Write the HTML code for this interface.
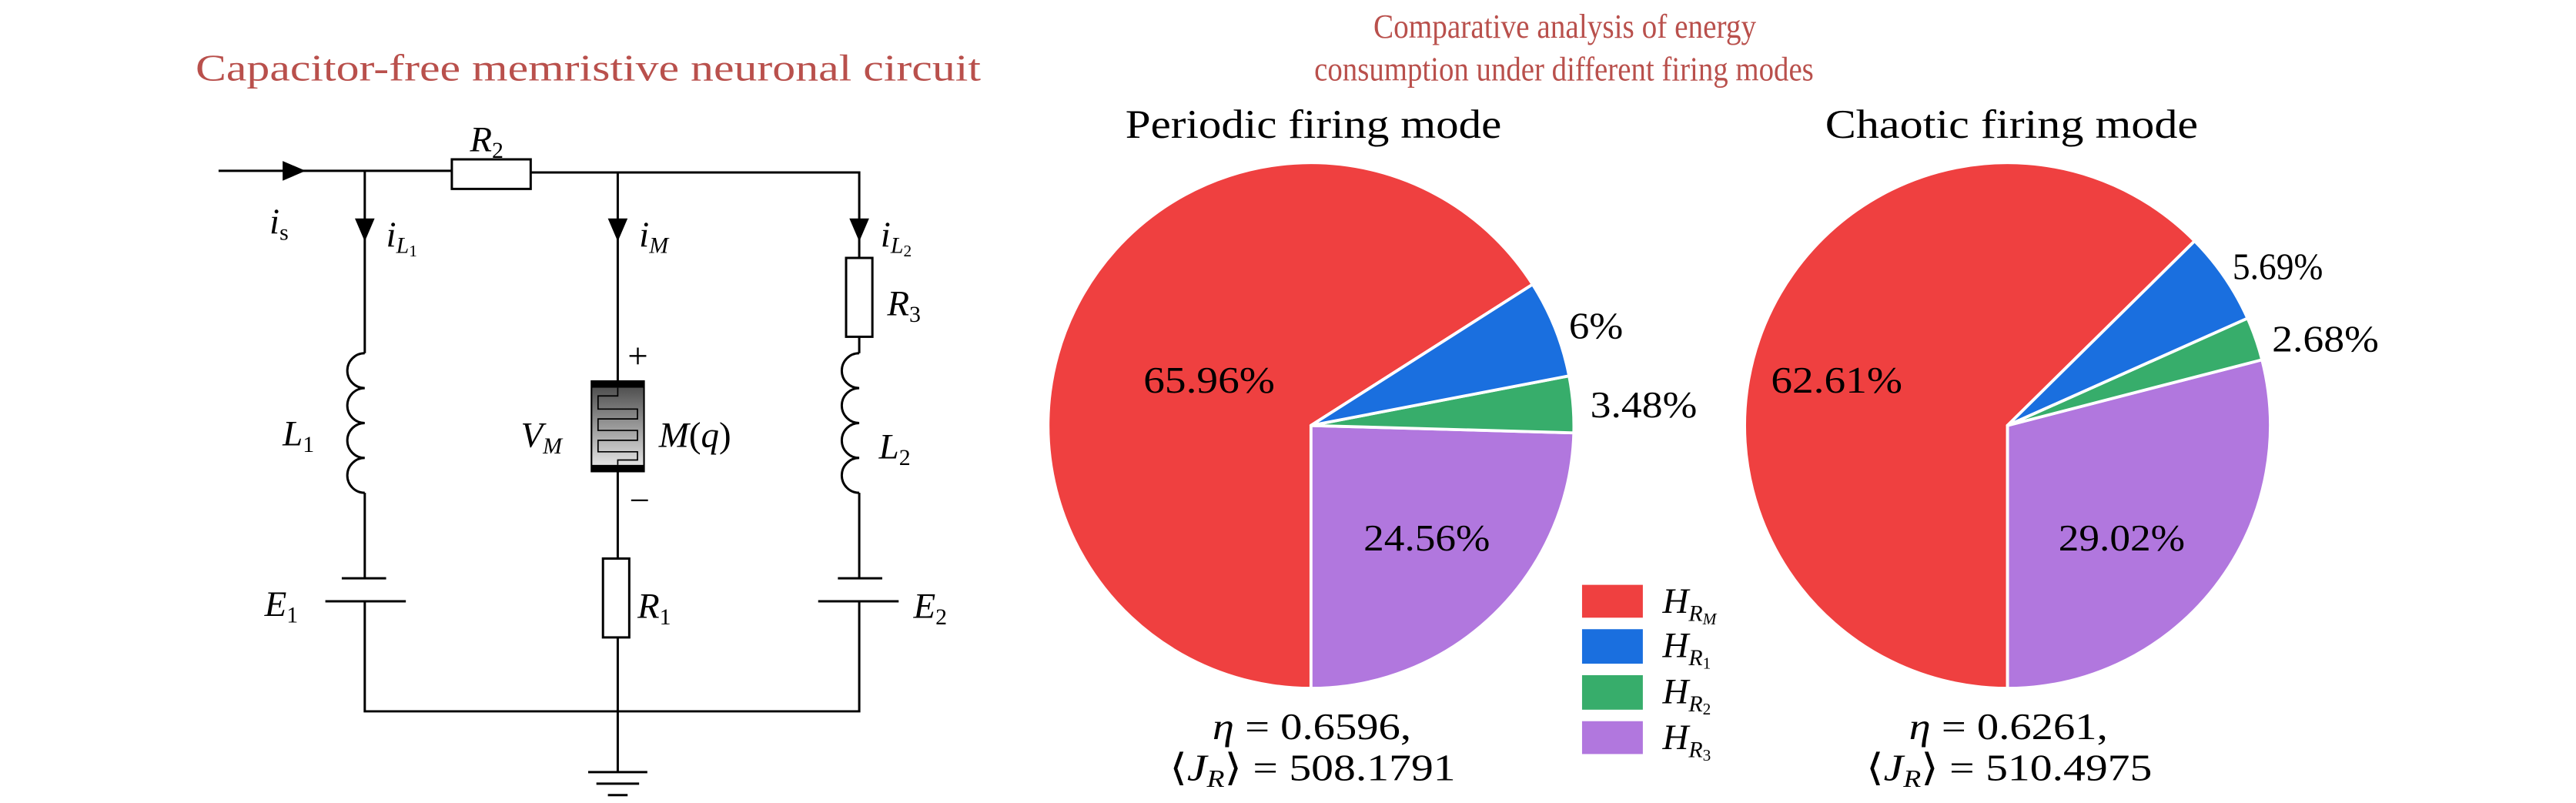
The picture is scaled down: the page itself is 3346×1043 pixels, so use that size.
<!DOCTYPE html>
<html><head><meta charset="utf-8"><style>
html,body{margin:0;padding:0;background:#fff;}
svg{display:block;}
text{font-family:"Liberation Serif",serif;fill:#000;}
.t{fill:#b9504c;}
.i{font-style:italic;}
</style></head><body>
<svg width="3346" height="1043" viewBox="0 0 1568 488.8" xmlns="http://www.w3.org/2000/svg">
<defs>
<linearGradient id="g" x1="0" y1="0" x2="0" y2="1">
<stop offset="0" stop-color="#444"/><stop offset="0.5" stop-color="#999"/><stop offset="1" stop-color="#eee"/>
</linearGradient>
</defs>
<text class="t" x="119" y="49" font-size="23" textLength="478" lengthAdjust="spacingAndGlyphs">Capacitor-free memristive neuronal circuit</text>
<g stroke="#000" stroke-width="1.4" fill="none">
<path d="M133 104 H275 M323 105 H523 V157 M222 104 V215 M222 300 V352 M222 366 V433 H523 V366 M523 352 V300 M523 205 V215 M376 105 V232 M376 287 V340 M376 388 V470"/>
<rect x="275" y="97" width="48" height="18"/>
<rect x="515" y="157" width="16" height="48"/>
<rect x="367" y="340" width="16" height="48"/>
<path d="M222 215 a10.6 10.6 0 1 0 0 21.25 a10.6 10.6 0 1 0 0 21.25 a10.6 10.6 0 1 0 0 21.25 a10.6 10.6 0 1 0 0 21.25"/>
<path d="M523 215 a10.6 10.6 0 1 0 0 21.25 a10.6 10.6 0 1 0 0 21.25 a10.6 10.6 0 1 0 0 21.25 a10.6 10.6 0 1 0 0 21.25"/>
<path d="M208 352 H235 M198 366 H247 M510 352 H537 M498 366 H547"/>
<path d="M358 470 H394 M363 477 H389 M370 484 H382"/>
</g>
<g fill="#000">
<path d="M172 98 L186 104 L172 110 Z"/>
<path d="M216 133 L222 147 L228 133 Z"/>
<path d="M370 133 L376 147 L382 133 Z"/>
<path d="M517 133 L523 147 L529 133 Z"/>
</g>
<rect x="360" y="232" width="32" height="55" fill="url(#g)" stroke="#000" stroke-width="1"/>
<rect x="360" y="232" width="32" height="4" fill="#000"/>
<rect x="360" y="283" width="32" height="4" fill="#000"/>
<path d="M376 236 V241 H364 V249 H388 V255 H364 V262 H388 V268 H364 V275 H388 V280 H376 V283" stroke="#000" stroke-width="0.8" fill="none"/>
<g font-size="22">
<text x="286" y="92" class="i">R<tspan font-size="14" font-style="normal" dy="4">2</tspan></text>
<text x="164" y="142" class="i">i<tspan font-size="14" font-style="normal" dy="4">s</tspan></text>
<text x="235" y="150" class="i">i<tspan font-size="14" dy="4">L</tspan><tspan font-size="10" font-style="normal" dy="2">1</tspan></text>
<text x="389" y="150" class="i">i<tspan font-size="14" dy="4">M</tspan></text>
<text x="536" y="150" class="i">i<tspan font-size="14" dy="4">L</tspan><tspan font-size="10" font-style="normal" dy="2">2</tspan></text>
<text x="540" y="192" class="i">R<tspan font-size="14" font-style="normal" dy="4">3</tspan></text>
<text x="172" y="271" class="i">L<tspan font-size="14" font-style="normal" dy="4">1</tspan></text>
<text x="535" y="279" class="i">L<tspan font-size="14" font-style="normal" dy="4">2</tspan></text>
<text x="317" y="272" class="i">V<tspan font-size="14" dy="4">M</tspan></text>
<text x="401" y="272"><tspan class="i">M</tspan>(<tspan class="i">q</tspan>)</text>
<text x="382" y="224" font-size="22">+</text>
<text x="383" y="312" font-size="22">−</text>
<text x="388" y="376" class="i">R<tspan font-size="14" font-style="normal" dy="4">1</tspan></text>
<text x="161" y="375" class="i">E<tspan font-size="14" font-style="normal" dy="4">1</tspan></text>
<text x="556" y="376" class="i">E<tspan font-size="14" font-style="normal" dy="4">2</tspan></text>
</g>
<text class="t" x="836" y="23" font-size="21" textLength="233" lengthAdjust="spacingAndGlyphs">Comparative analysis of energy</text>
<text class="t" x="800" y="49" font-size="21" textLength="304" lengthAdjust="spacingAndGlyphs">consumption under different firing modes</text>
<text x="685" y="84" font-size="25" textLength="229" lengthAdjust="spacingAndGlyphs">Periodic firing mode</text>
<text x="1111" y="84" font-size="25" textLength="227" lengthAdjust="spacingAndGlyphs">Chaotic firing mode</text>
<g stroke="#fff" stroke-width="1.8" stroke-linejoin="round">
<path d="M798 259 L932.9 173.1 A160 160 0 1 0 798 419 Z" fill="#ef4040"/>
<path d="M798 259 L798 419 A160 160 0 0 0 958 263.5 Z" fill="#b177de"/>
<path d="M798 259 L958 263.5 A160 160 0 0 0 955.1 228.8 Z" fill="#37ad6b"/>
<path d="M798 259 L955.1 228.8 A160 160 0 0 0 932.9 173.1 Z" fill="#1a6fdf"/>
<path d="M1222 259 L1335.9 146.7 A160 160 0 1 0 1222 419 Z" fill="#ef4040"/>
<path d="M1222 259 L1222 419 A160 160 0 0 0 1376.9 219 Z" fill="#b177de"/>
<path d="M1222 259 L1376.9 219 A160 160 0 0 0 1368.1 193.7 Z" fill="#37ad6b"/>
<path d="M1222 259 L1368.1 193.7 A160 160 0 0 0 1335.9 146.7 Z" fill="#1a6fdf"/>
</g>
<g font-size="23">
<text x="696" y="239" textLength="80" lengthAdjust="spacingAndGlyphs">65.96%</text>
<text x="955" y="206" textLength="33" lengthAdjust="spacingAndGlyphs">6%</text>
<text x="968" y="254" textLength="65" lengthAdjust="spacingAndGlyphs">3.48%</text>
<text x="830" y="335" textLength="77" lengthAdjust="spacingAndGlyphs">24.56%</text>
<text x="1078" y="239" textLength="80" lengthAdjust="spacingAndGlyphs">62.61%</text>
<text x="1359" y="170" textLength="55" lengthAdjust="spacingAndGlyphs">5.69%</text>
<text x="1383" y="214" textLength="65" lengthAdjust="spacingAndGlyphs">2.68%</text>
<text x="1253" y="335" textLength="77" lengthAdjust="spacingAndGlyphs">29.02%</text>
</g>
<g font-size="23">
<text x="738" y="450" textLength="121" lengthAdjust="spacingAndGlyphs"><tspan class="i">η</tspan> = 0.6596,</text>
<text x="712" y="475" textLength="174" lengthAdjust="spacingAndGlyphs">⟨<tspan class="i">J</tspan><tspan class="i" font-size="15" dy="4">R</tspan><tspan dy="-4">⟩ = 508.1791</tspan></text>
<text x="1162" y="450" textLength="121" lengthAdjust="spacingAndGlyphs"><tspan class="i">η</tspan> = 0.6261,</text>
<text x="1136" y="475" textLength="174" lengthAdjust="spacingAndGlyphs">⟨<tspan class="i">J</tspan><tspan class="i" font-size="15" dy="4">R</tspan><tspan dy="-4">⟩ = 510.4975</tspan></text>
</g>
<rect x="963" y="356" width="37" height="20" fill="#ef4040"/>
<rect x="963" y="383" width="37" height="21" fill="#1a6fdf"/>
<rect x="963" y="411" width="37" height="21" fill="#37ad6b"/>
<rect x="963" y="439" width="37" height="20" fill="#b177de"/>
<g font-size="22">
<text x="1012" y="373" class="i">H<tspan font-size="14" dy="5">R</tspan><tspan font-size="10" dy="2">M</tspan></text>
<text x="1012" y="400" class="i">H<tspan font-size="14" dy="5">R</tspan><tspan font-size="10" font-style="normal" dy="2">1</tspan></text>
<text x="1012" y="428" class="i">H<tspan font-size="14" dy="5">R</tspan><tspan font-size="10" font-style="normal" dy="2">2</tspan></text>
<text x="1012" y="456" class="i">H<tspan font-size="14" dy="5">R</tspan><tspan font-size="10" font-style="normal" dy="2">3</tspan></text>
</g>
</svg>
</body></html>
